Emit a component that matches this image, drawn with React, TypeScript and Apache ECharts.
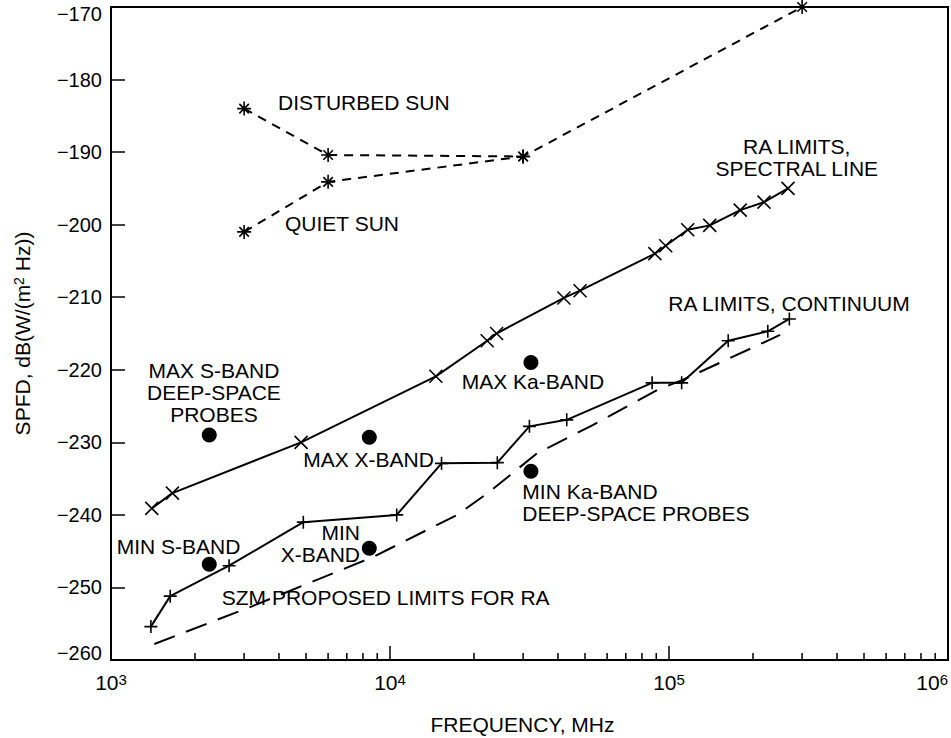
import React, { useEffect, useRef } from "react";
import * as echarts from "echarts";

// ---- data (frequency in MHz, SPFD in dB(W/(m^2 Hz))) ----
const disturbedSunFreq = [3000, 6000, 30000, 300000];
const disturbedSunSpfd = [-184, -190.4, -190.6, -170];

const quietSunFreq = [3000, 6000, 30000];
const quietSunSpfd = [-201, -194.1, -190.6];

const spectralFreq = [1400, 1660, 4800, 14600, 22300, 24100, 42000, 48000, 89000, 97300, 116700, 140000, 180000, 219000, 267000];
const spectralSpfd = [-239.1, -237, -230, -220.9, -216, -215, -210.1, -209.1, -204, -202.9, -200.7, -200.1, -198, -196.9, -195];

const continuumFreq = [1390, 1630, 2650, 4890, 10570, 15300, 24250, 31600, 43000, 87000, 111000, 163000, 226000, 270000];
const continuumSpfd = [-255.4, -251.2, -247, -241, -240, -232.9, -232.8, -227.8, -226.9, -221.8, -221.8, -216, -214.7, -213];

const szmFreq = [1430, 3200, 8700, 17400, 22400, 33700, 53500, 90600, 112000, 250000];
const szmSpfd = [-257.8, -252.6, -245.8, -240.0, -237.0, -231.5, -227.6, -222.8, -221.4, -215.2];

const probeFreq = [2250, 2250, 8430, 8430, 32000, 32000];
const probeSpfd = [-229, -246.8, -229.3, -244.6, -219, -234];

const yTicks = { min: -260, max: -170, step: 10 };
const xRange = { min: 1e3, max: 1e6 };
const minorDecades = [1e3, 1e4, 1e5];
const minorMultipliers = [2, 3, 4, 5, 6, 7, 8, 9];

const labelTexts = [
  "DISTURBED SUN",
  "QUIET SUN",
  "RA LIMITS,\nSPECTRAL LINE",
  "RA LIMITS, CONTINUUM",
  "MAX S-BAND\nDEEP-SPACE\nPROBES",
  "MAX X-BAND",
  "MAX Ka-BAND",
  "MIN Ka-BAND\nDEEP-SPACE PROBES",
  "MIN S-BAND",
  "MIN\nX-BAND",
  "SZM PROPOSED LIMITS FOR RA",
];
// anchors in data coordinates (freq, spfd) and text alignment
const labelAnchors: [number, number, string][] = [
  [3970, -183.2, "left"],
  [4205, -199.8, "left"],
  [287000, -190.7, "center"],
  [99400, -210.8, "left"],
  [2339, -223.2, "center"],
  [4888, -232.3, "left"],
  [18070, -221.65, "left"],
  [29800, -238.3, "left"],
  [1048, -244.4, "left"],
  [7808, -243.94, "right"],
  [2494, -251.4, "left"],
];

const FONT = '"Liberation Sans", Arial, Helvetica, sans-serif';

const pairs = (xs: number[], ys: number[]) => xs.map((x, i) => [x, ys[i]]);

const SYM_X = "path://M0,0L10,10M10,0L0,10";
const SYM_PLUS = "path://M5,0L5,10M0,5L10,5";
const SYM_STAR = "path://M5,0L5,10M0,5L10,5M1.6,1.6L8.4,8.4M8.4,1.6L1.6,8.4";

export default function App() {
  const ref = useRef<HTMLDivElement>(null);
  useEffect(() => {
    if (!ref.current) return;
    const chart = echarts.init(ref.current, null, { renderer: "svg" });

    const minorTicks: number[][] = [];
    minorDecades.forEach((d) => minorMultipliers.forEach((m) => minorTicks.push([m * d, yTicks.min])));

    const markerItem = { color: "#000", borderColor: "#000", borderWidth: 1.6, opacity: 1 };

    const option: any = {
      animation: false,
      textStyle: { fontFamily: FONT, color: "#000" },
      grid: {
        left: 111,
        top: 7,
        width: 837,
        height: 653,
        show: true,
        borderColor: "#000",
        borderWidth: 2,
        backgroundColor: "transparent",
        outerBoundsMode: "none",
        containLabel: false,
      },
      xAxis: {
        type: "log",
        logBase: 10,
        min: xRange.min,
        max: xRange.max,
        name: "FREQUENCY, MHz",
        nameLocation: "middle",
        nameGap: 54,
        nameTextStyle: { fontSize: 21, color: "#000", fontFamily: FONT, padding: [0, 14, 0, 0] },
        axisLine: { lineStyle: { color: "#000", width: 2 } },
        axisTick: { inside: true, length: 14, lineStyle: { color: "#000", width: 1.5 } },
        axisLabel: {
          margin: 12,
          fontSize: 21,
          color: "#000",
          fontFamily: FONT,
          alignMinLabel: "left",
          alignMaxLabel: "right",
          formatter: (v: number) => "10{sup|" + Math.round(Math.log10(v)) + "}",
          rich: {
            sup: { fontSize: 15, fontFamily: FONT, color: "#000", verticalAlign: "top" },
          },
        },
        splitLine: { show: false },
      },
      yAxis: {
        type: "value",
        min: yTicks.min,
        max: yTicks.max,
        interval: yTicks.step,
        name: "SPFD, dB(W/(m{sup|2} Hz))",
        nameLocation: "middle",
        nameGap: 78,
        nameRotate: 90,
        nameTextStyle: {
          fontSize: 21,
          color: "#000",
          fontFamily: FONT,
          rich: { sup: { fontSize: 14, fontFamily: FONT, color: "#000", verticalAlign: "top" } },
        },
        axisLine: { lineStyle: { color: "#000", width: 2 } },
        axisTick: { inside: true, length: 14, lineStyle: { color: "#000", width: 1.5 } },
        axisLabel: {
          margin: 9,
          fontSize: 20,
          lineHeight: 14,
          color: "#000",
          fontFamily: FONT,
          verticalAlignMaxLabel: "top",
          verticalAlignMinLabel: "bottom",
          formatter: (v: number) => String(v).replace("-", "\u2212"),
        },
        splitLine: { show: false },
      },
      series: [
        {
          type: "custom",
          name: "minorTicks",
          silent: true,
          clip: false,
          data: minorTicks,
          renderItem: (params: any, api: any) => {
            const p = api.coord([api.value(0), api.value(1)]);
            return {
              type: "line",
              shape: { x1: p[0], y1: p[1], x2: p[0], y2: p[1] - 7 },
              style: { stroke: "#000", lineWidth: 1.5 },
            };
          },
        },
        {
          type: "line",
          name: "Disturbed sun",
          data: pairs(disturbedSunFreq, disturbedSunSpfd),
          clip: false,
          symbol: SYM_STAR,
          symbolSize: 14,
          itemStyle: markerItem,
          lineStyle: { color: "#000", width: 2, type: [9, 7] },
          emphasis: { disabled: true },
        },
        {
          type: "line",
          name: "Quiet sun",
          data: pairs(quietSunFreq, quietSunSpfd),
          clip: false,
          symbol: SYM_STAR,
          symbolSize: 14,
          itemStyle: markerItem,
          lineStyle: { color: "#000", width: 2, type: [9, 7] },
          emphasis: { disabled: true },
        },
        {
          type: "line",
          name: "RA limits, spectral line",
          data: pairs(spectralFreq, spectralSpfd),
          symbol: SYM_X,
          symbolSize: 13,
          itemStyle: markerItem,
          lineStyle: { color: "#000", width: 2 },
          emphasis: { disabled: true },
        },
        {
          type: "line",
          name: "RA limits, continuum",
          data: pairs(continuumFreq, continuumSpfd),
          symbol: SYM_PLUS,
          symbolSize: 13,
          itemStyle: markerItem,
          lineStyle: { color: "#000", width: 2 },
          emphasis: { disabled: true },
        },
        {
          type: "line",
          name: "SZM proposed limits for RA",
          data: pairs(szmFreq, szmSpfd),
          symbol: "none",
          lineStyle: { color: "#000", width: 2, type: [22, 12] },
          emphasis: { disabled: true },
        },
        {
          type: "scatter",
          name: "Deep-space probes",
          data: pairs(probeFreq, probeSpfd),
          symbol: "circle",
          symbolSize: 15,
          itemStyle: { color: "#000", opacity: 1 },
          emphasis: { disabled: true },
        },
        {
          type: "scatter",
          name: "labels",
          silent: true,
          symbolSize: 1,
          itemStyle: { color: "rgba(0,0,0,0)", opacity: 1 },
          data: labelTexts.map((t, i) => ({
            value: [labelAnchors[i][0], labelAnchors[i][1]],
            label: {
              show: true,
              position: "inside",
              formatter: t,
              align: labelAnchors[i][2],
              verticalAlign: "middle",
              fontSize: 21,
              lineHeight: 22,
              color: "#000",
              opacity: 1,
              fontFamily: FONT,
            },
          })),
          emphasis: { disabled: true },
        },
      ],
    };
    chart.setOption(option);
    return () => chart.dispose();
  }, []);

  return (
    <div
      ref={ref}
      style={{ position: "fixed", left: 0, top: 0, width: 951, height: 738, background: "#fff" }}
    />
  );
}
